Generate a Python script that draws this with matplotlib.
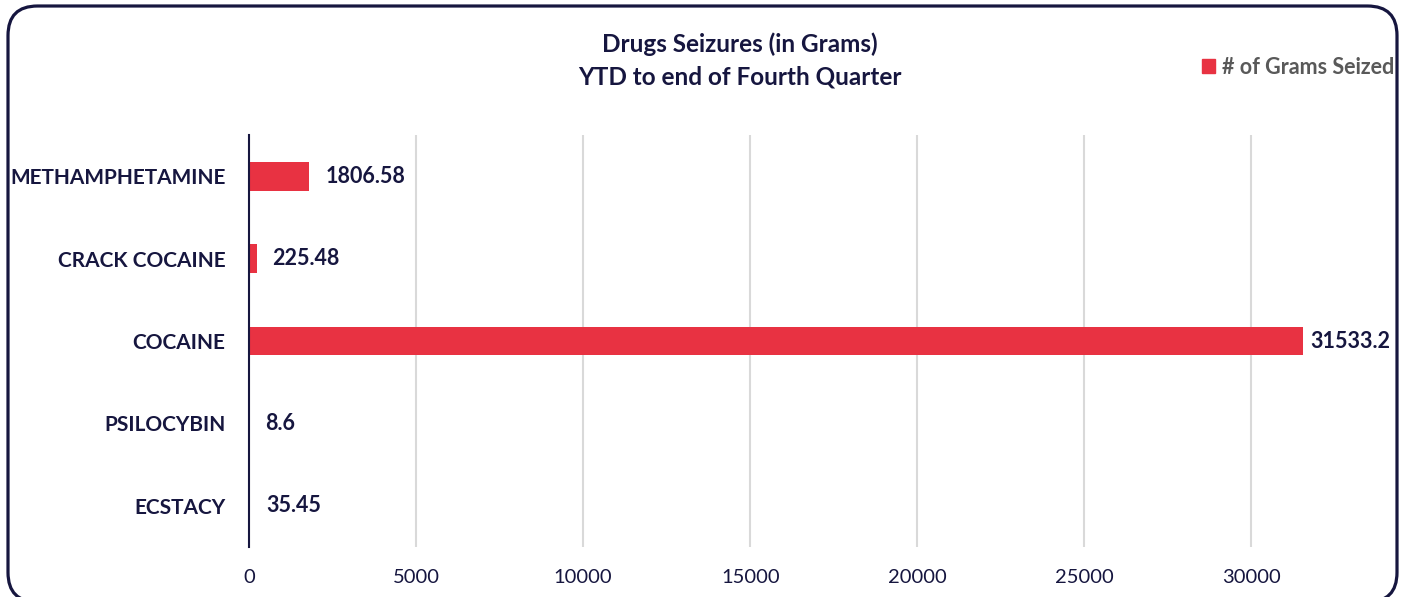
import matplotlib.pyplot as plt
from matplotlib.patches import FancyBboxPatch, Patch

# Data
drugs = ['METHAMPHETAMINE', 'CRACK COCAINE', 'COCAINE', 'PSILOCYBIN', 'ECSTACY']
grams = [1806.58, 225.48, 31533.2, 8.6, 35.45]
value_labels = ['1806.58', '225.48', '31533.2', '8.6', '35.45']
xticks = [0, 5000, 10000, 15000, 20000, 25000, 30000]

navy = '#16163f'
red = '#e83242'
W, H = 1407, 597

plt.rcParams['font.family'] = ['Lato', 'DejaVu Sans']

fig = plt.figure(figsize=(W / 100, H / 100), dpi=100)
ax = fig.add_axes([249 / W, 1 - 547 / H, (1350 - 249) / W, (547 - 135) / H])

ypos = list(range(len(drugs)))
ax.barh(ypos, grams, height=0.35, color=red, zorder=3)
ax.set_ylim(len(drugs) - 0.5, -0.5)
ax.set_xlim(0, 32950)
ax.set_yticks(ypos)
ax.set_yticklabels(drugs, fontsize=15, fontweight='bold', color=navy)
ax.set_xticks(xticks)
ax.set_xticklabels([str(t) for t in xticks], fontsize=14.5, color=navy)
ax.tick_params(axis='both', length=0)
ax.tick_params(axis='y', pad=17)
ax.tick_params(axis='x', pad=16)
ax.grid(axis='x', color='#d9d9d9', linewidth=1.5, zorder=0)
for s in ['top', 'right', 'bottom']:
    ax.spines[s].set_visible(False)
ax.spines['left'].set_color(navy)
ax.spines['left'].set_linewidth(1.5)
ax.spines['left'].set_zorder(4)

# labels sit just outside the bar end; the longest one is pulled in to fit the frame
for y, v, lab in zip(ypos, grams, value_labels):
    off = 8 if v > 30000 else 16
    ax.annotate(lab, (v, y), xytext=(off, 0), textcoords='offset pixels',
                va='center', ha='left', fontsize=15.5, fontweight='bold', color=navy)

fig.text(740 / W, 1 - 44 / H, 'Drugs Seizures (in Grams)', ha='center', va='center',
         fontsize=17.5, fontweight='bold', color=navy)
fig.text(740 / W, 1 - 77 / H, 'YTD to end of Fourth Quarter', ha='center', va='center',
         fontsize=17.5, fontweight='bold', color=navy)

fig.legend(handles=[Patch(color=red, label='# of Grams Seized')], loc='center right',
           bbox_to_anchor=(1394 / W, 1 - 67 / H), frameon=False, handlelength=0.6,
           handleheight=0.6, handletextpad=0.3, borderaxespad=0, borderpad=0,
           prop={'size': 15.5, 'weight': 'bold'}, labelcolor='#595959')

frame = FancyBboxPatch((8 / W, 1 - 602 / H), (1397 - 8) / W, (602 - 6) / H,
                       boxstyle='round,pad=0,rounding_size=0.021', transform=fig.transFigure,
                       fill=False, edgecolor=navy, linewidth=2.3, mutation_aspect=W / H)
fig.patches.append(frame)

fig.savefig('out.png', dpi=100)
